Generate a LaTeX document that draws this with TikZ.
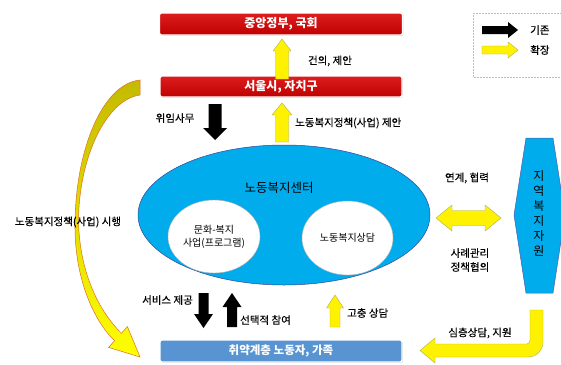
\documentclass[tikz,border=0pt]{standalone}
\usepackage{fontspec}
\setmainfont{Noto Sans CJK KR}
\usetikzlibrary{shapes.geometric,calc,shadows}
\definecolor{skyfill}{RGB}{0,172,236}
\definecolor{skyline}{RGB}{60,70,150}
\definecolor{boxblue}{RGB}{88,148,210}
\definecolor{yline}{RGB}{175,175,80}
\definecolor{curveline}{RGB}{225,110,40}
\definecolor{olivey}{RGB}{196,186,0}
\newcommand\blockarrow[6]{%
  \path ($(#3)!#6!(#2)$) coordinate (hb);
  \path[#1] ($(#2)!#4!90:(#3)$) -- ($(hb)!#4!90:(#3)$) -- ($(hb)!#5!90:(#3)$) -- (#3)
    -- ($(hb)!#5!-90:(#3)$) -- ($(hb)!#4!-90:(#3)$) -- ($(#2)!#4!-90:(#3)$) -- cycle;
}
\tikzset{
  redbox/.style={rectangle, rounded corners=2pt, inner sep=0pt,
    top color={rgb,255:red,222;green,30;blue,30}, bottom color={rgb,255:red,190;green,0;blue,0},
    draw=white, line width=1.3pt, text=white, font=\bfseries\fontsize{12}{14}\selectfont,
    drop shadow={shadow xshift=0.8pt,shadow yshift=-0.8pt,opacity=0.35,fill=gray}},
  bluebox/.style={redbox, top color=boxblue, bottom color=boxblue, font=\bfseries\fontsize{11.5}{14}\selectfont},
  yarrow/.style={fill=yellow, draw=yline, line width=0.4pt},
  karrow/.style={fill=black},
  lbl/.style={font=\fontsize{10.5}{13}\selectfont\addfontfeature{FakeBold=0.3}, inner sep=0pt, align=center},
}
\begin{document}
\begin{tikzpicture}[x=1pt,y=-1pt]
\useasboundingbox (0,0) rectangle (561,364);
\clip (0,0) rectangle (561,364);
\fill[white] (0,0) rectangle (561,364);

% legend
\draw[gray!50, densely dotted, line width=0.5pt] (473,13) rectangle (580,77);
\coordinate (lk1) at (482,30); \coordinate (lk2) at (518,30);
\coordinate (ly1) at (482,50); \coordinate (ly2) at (518,50);
\blockarrow{karrow}{lk1}{lk2}{4pt}{8pt}{10pt}
\blockarrow{yarrow}{ly1}{ly2}{4pt}{8pt}{10pt}
\node[lbl, anchor=west] (lgk) at (530,30) {기존};
\node[lbl, anchor=west] (lgy) at (530,50) {확장};

% boxes
\node[redbox, minimum width=243pt, minimum height=22pt] (gov) at (281,24) {중앙정부, 국회};
\node[redbox, minimum width=242pt, minimum height=21pt] (seoul) at (281,86.5) {서울시, 자치구};
\node[bluebox, minimum width=242pt, minimum height=22pt] (worker) at (281,351) {취약계층 노동자, 가족};

% center ellipse
\node[ellipse, fill=skyfill, draw=skyline, line width=0.5pt, minimum width=292pt, minimum height=140pt, inner sep=0pt] (center) at (284,215) {};
\node[font=\fontsize{12.5}{14}\selectfont, inner sep=0pt] (centert) at (279,188) {노동복지센터};
\node[ellipse, fill=white, draw=gray!60, line width=0.4pt, minimum width=92pt, minimum height=73pt, inner sep=0pt,
  font=\fontsize{10}{13}\selectfont, align=center] (prog) at (214,236.5) {문화-복지\\사업(프로그램)};
\node[ellipse, fill=white, draw=gray!60, line width=0.4pt, minimum width=91pt, minimum height=74pt, inner sep=0pt,
  font=\fontsize{10}{13}\selectfont] (counsel) at (347.5,238) {노동복지상담};

% hexagon
\filldraw[fill=skyfill, draw=gray!70!blue, line width=0.5pt] (526,138) -- (553,138) -- (565,215) -- (553,293) -- (526,293) -- (514,215) -- cycle;
\node[font=\fontsize{12}{15}\selectfont, align=center, inner sep=0pt] (res) at (539,213) {지\\역\\복\\지\\자\\원};

% top arrows
\coordinate (a1t) at (282,79); \coordinate (a1h) at (282,39);
\blockarrow{yarrow}{a1t}{a1h}{6.5pt}{9pt}{12pt}
\node[lbl] (l1) at (330,61) {건의, 제안};
\coordinate (a2t) at (215,104); \coordinate (a2h) at (215,140);
\blockarrow{karrow}{a2t}{a2h}{6.5pt}{12pt}{12pt}
\node[lbl] (l2) at (175,118) {위임사무};
\coordinate (a3t) at (282,142); \coordinate (a3h) at (282,103);
\blockarrow{yarrow}{a3t}{a3h}{6.5pt}{10pt}{12pt}
\node[lbl, anchor=west] (l3) at (295,123) {노동복지정책(사업) 제안};

% double arrow
\coordinate (dl) at (436,218); \coordinate (dr) at (501,218);
\path ($(dl)!16pt!(dr)$) coordinate (hl) ($(dr)!16pt!(dl)$) coordinate (hr);
\path[yarrow] (dl) -- ($(hl)!13pt!90:(dr)$) -- ($(hl)!7.5pt!90:(dr)$) -- ($(hr)!7.5pt!-90:(dl)$) -- ($(hr)!13pt!-90:(dl)$)
  -- (dr) -- ($(hr)!13pt!90:(dl)$) -- ($(hr)!7.5pt!90:(dl)$) -- ($(hl)!7.5pt!-90:(dr)$) -- ($(hl)!13pt!-90:(dr)$) -- cycle;
\node[lbl] (l4) at (467,178) {연계, 협력};
\node[lbl, font=\fontsize{10.5}{14}\selectfont\addfontfeature{FakeBold=0.3}] (l5) at (470,260) {사례관리\\정책협의};

% bottom arrows
\coordinate (b1t) at (203.5,293); \coordinate (b1h) at (203.5,328);
\blockarrow{karrow}{b1t}{b1h}{5pt}{9.5pt}{14pt}
\coordinate (b2t) at (232,327); \coordinate (b2h) at (232,293);
\blockarrow{karrow}{b2t}{b2h}{5pt}{9.5pt}{14pt}
\coordinate (b3t) at (335,327); \coordinate (b3h) at (335,295);
\blockarrow{yarrow}{b3t}{b3h}{5pt}{8.5pt}{13pt}
\node[lbl, anchor=east] (l6) at (193,300) {서비스 제공};
\node[lbl, anchor=west] (l7) at (240,320) {선택적 참여};
\node[lbl, anchor=west] (l8) at (347,313) {고충 상담};

% left curved arrow
\path[draw=curveline, line width=0.5pt, top color=olivey, middle color={rgb,255:red,232;green,222;blue,0}, bottom color=yellow]
  (140,80) .. controls (102,84) and (76,150) .. (75,222)
  .. controls (74,280) and (95,322) .. (114.6,340.7)
  -- (108.6,347.4) -- (140,357) -- (127.4,326.6) -- (121.4,333.3)
  .. controls (100,312) and (80,275) .. (78.5,222)
  .. controls (78.5,160) and (105,100) .. (140,95) -- cycle;
\node[lbl] (l9) at (68,222) {노동복지정책(사업) 시행};

% right bent arrow
\path[yarrow] (530,310) -- (543,310) -- (543,342) .. controls (543,350.3) and (536.3,357) .. (528,357)
  -- (435,357) -- (435,363) -- (420,350.5) -- (435,338) -- (435,344) -- (527,344)
  .. controls (529,344) and (530,342) .. (530,340) -- cycle;
\node[lbl] (l10) at (480,333) {심층상담, 지원};
\end{tikzpicture}
\end{document}
